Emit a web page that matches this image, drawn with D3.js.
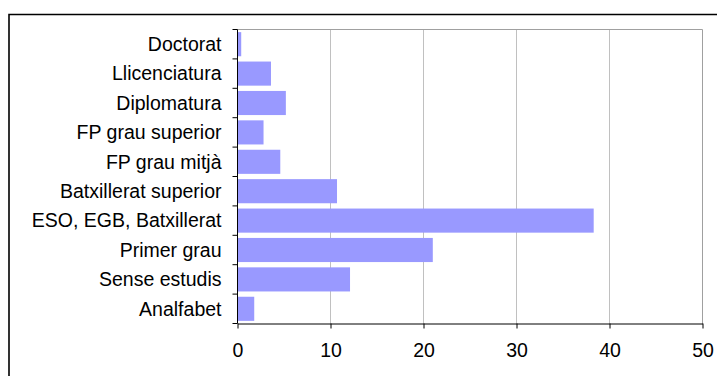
<!DOCTYPE html>
<html><head><meta charset="utf-8">
<script src="https://cdn.jsdelivr.net/npm/d3@7"></script>
<style>body{margin:0;background:#fff;overflow:hidden}svg{display:block}</style>
</head><body>
<svg id="c" width="717" height="376"></svg>
<script>
const categories = ["Doctorat","Llicenciatura","Diplomatura","FP grau superior","FP grau mitjà","Batxillerat superior","ESO, EGB, Batxillerat","Primer grau","Sense estudis","Analfabet"];
const values = [0.4,3.6,5.2,2.8,4.6,10.7,38.3,21.0,12.1,1.8];
const xTicks = [0,10,20,30,40,50];

const svg = d3.select("#c");
const font = "'Liberation Sans', Arial, sans-serif";
const fs = 19.5;
// outer frame
svg.append("path").attr("d","M9,400V14.5H730").attr("fill","none").attr("stroke","#000").attr("stroke-width",1.6);

const L=237.5, R=702.5, T=29.5, B=323.5;
const x = d3.scaleLinear().domain([0,50]).range([L,R]);
const y = d3.scaleBand().domain(categories).range([T,B]).paddingInner(0.18).paddingOuter(0.09);

// gridlines
svg.append("g").selectAll("line").data(xTicks.slice(1,-1)).join("line")
  .attr("x1",d=>x(d)).attr("x2",d=>x(d)).attr("y1",T).attr("y2",B)
  .attr("stroke","#c0c0c0").attr("stroke-width",1);
// plot border top & right
svg.append("path").attr("d",`M${L},${T}H${R}V${B}`).attr("fill","none").attr("stroke","#a0a0a0").attr("stroke-width",1);

// bars
svg.append("g").selectAll("rect").data(values).join("rect")
  .attr("x",x(0)).attr("y",(d,i)=>y(categories[i]))
  .attr("width",d=>x(d)-x(0)).attr("height",y.bandwidth())
  .attr("fill","#9999ff");

// x axis
const xa = svg.append("g").attr("transform",`translate(0,${B})`)
  .call(d3.axisBottom(x).tickValues(xTicks).tickSize(5).tickPadding(15).tickSizeOuter(0));
xa.select(".domain").attr("stroke","#000");
xa.selectAll("line").attr("stroke","#000");
xa.selectAll("text").attr("font-family",font).attr("font-size",fs).attr("fill","#000");

// y axis with ticks at band boundaries
const step = (B-T)/categories.length;
const ya = svg.append("g");
ya.append("line").attr("x1",L).attr("x2",L).attr("y1",T).attr("y2",B).attr("stroke","#000");
ya.selectAll("line.t").data(d3.range(categories.length+1)).join("line").attr("class","t")
  .attr("x1",L-5).attr("x2",L).attr("y1",i=>T+i*step).attr("y2",i=>T+i*step).attr("stroke","#000");
ya.selectAll("text").data(categories).join("text")
  .attr("x",L-16).attr("y",d=>y(d)+y.bandwidth()/2).attr("dy","0.35em")
  .attr("text-anchor","end").attr("font-family",font).attr("font-size",fs).attr("fill","#000")
  .text(d=>d);
</script>
</body></html>
